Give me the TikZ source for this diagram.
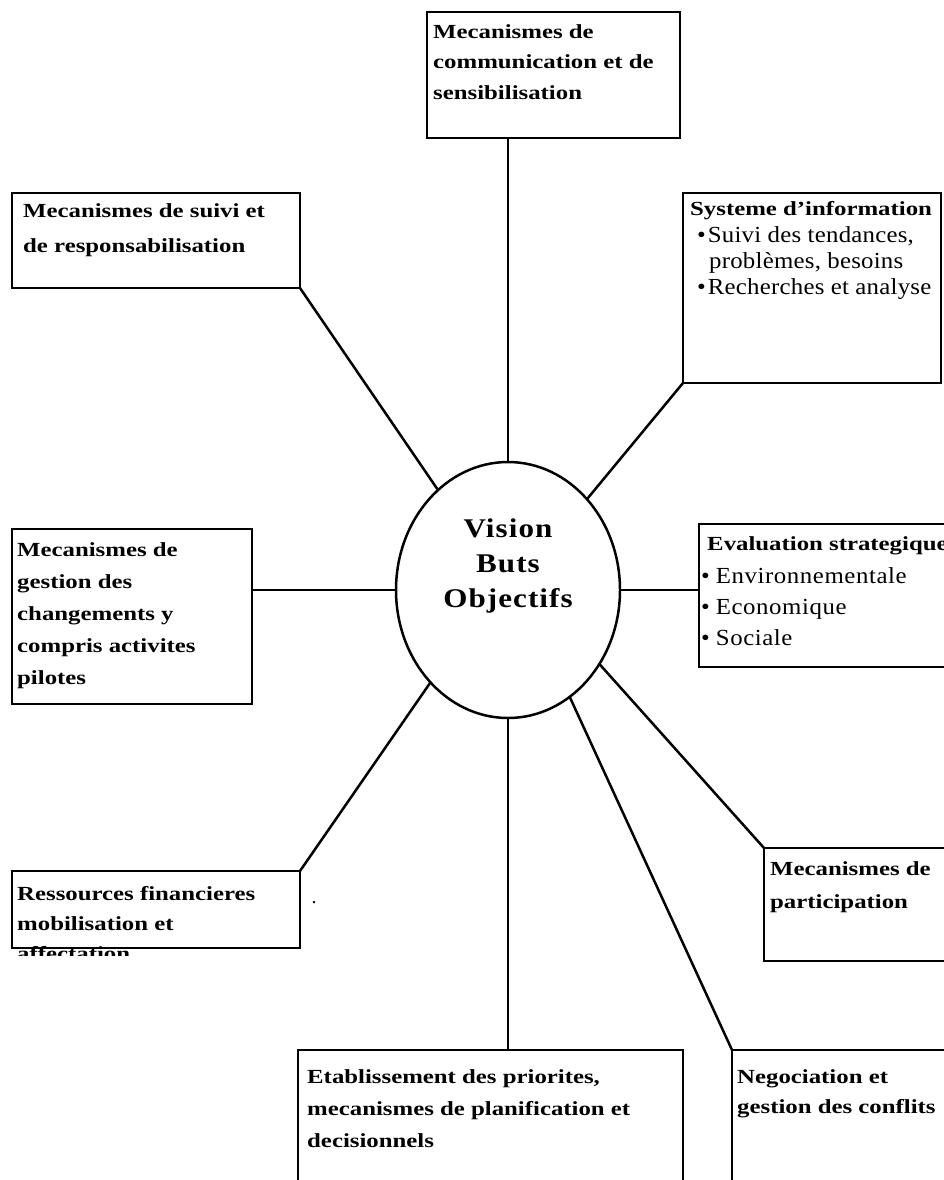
\documentclass[tikz,border=0pt]{standalone}
\usepackage{fontspec}
\setmainfont{Liberation Serif}
\newfontfamily\widefont[FakeStretch=1.24]{Liberation Serif}
\newfontfamily\listfont[FakeStretch=1.08,LetterSpace=2.5]{Liberation Serif}
\newfontfamily\sysfont[FakeStretch=1.08,LetterSpace=1]{Liberation Serif}
\newfontfamily\visfont[FakeStretch=1.15,LetterSpace=4]{Liberation Serif}
\usetikzlibrary{shapes.geometric, positioning, calc}
\tikzset{
    box/.style={draw, rectangle, line width=2.5pt, anchor=north west, inner sep=0pt, outer sep=0pt},
    % anchored at the baseline of the last line
    boxtxt/.style={anchor=base west, inner sep=0pt, align=left, font=\widefont\bfseries\fontsize{20}{#1}\selectfont},
    boxtxt/.default={32},
    listtxt/.style={anchor=base west, inner sep=0pt, align=left, font=\listfont\fontsize{23}{#1}\selectfont},
    listtxt/.default={26},
    link/.style={line width=2.5pt}
}

\begin{document}
\begin{tikzpicture}[x=1pt, y=-1pt]
    \useasboundingbox (0,0) rectangle (944,1180);
    % centre
    \node[draw, ellipse, line width=2.5pt, inner sep=0pt, outer sep=0pt, minimum width=224, minimum height=256] (ell) at (508,590) {};
    \node[anchor=base, align=center, inner sep=0pt, font=\visfont\bfseries\fontsize{27}{35}\selectfont] (vis) at (508,607) {Vision\\Buts\\Objectifs};
    % boxes
    \node[box, minimum width=253, minimum height=126] (comm) at (427,12) {};
    \node[box, minimum width=288, minimum height=95] (suivi) at (12,193) {};
    \node[box, minimum width=258, minimum height=190] (sys) at (683,193) {};
    \node[box, minimum width=240, minimum height=175] (gest) at (12,529) {};
    \node[box, minimum width=250, minimum height=143] (eval) at (699,524) {};
    \node[box, minimum width=288, minimum height=77] (res) at (12,871) {};
    \node[box, minimum width=185, minimum height=113] (part) at (764,848) {};
    \node[box, minimum width=385, minimum height=150] (etab) at (298,1050) {};
    \node[box, minimum width=220, minimum height=150] (nego) at (732,1050) {};
    % texts
    \node[boxtxt=31] (commtxt) at (433,100) {Mecanismes de\\communication et de\\sensibilisation};
    \node[boxtxt=35] (suivitxt) at (23,252) {Mecanismes de suivi et\\de responsabilisation};
    \node[boxtxt] (syshead) at (690,215) {Systeme d’information};
    \node[listtxt, font=\sysfont\fontsize{23}{26}\selectfont] (syslist) at (697,294) {\textbullet\hspace{2pt}Suivi des tendances,\\\hspace*{12pt}problèmes, besoins\\\textbullet\hspace{2pt}Recherches et analyse};
    \node[boxtxt] (gesttxt) at (17,684) {Mecanismes de\\gestion des\\changements y\\compris activites\\pilotes};
    \node[boxtxt] (evalhead) at (707,550) {Evaluation strategique};
    \node[listtxt=31] (evallist) at (701,645) {\textbullet\hspace{6pt}Environnementale\\\textbullet\hspace{6pt}Economique\\\textbullet\hspace{6pt}Sociale};
    \begin{scope}
        \clip (0,0) rectangle (944,955);
        \node[boxtxt=30] (restxt) at (17,960) {Ressources financieres\\mobilisation et\\affectation};
    \end{scope}
    \node[anchor=base, inner sep=0pt, font=\fontsize{20}{24}\selectfont] (dot) at (314,903) {.};
    \node[boxtxt=33] (parttxt) at (770,908) {Mecanismes de\\participation};
    \node[boxtxt] (etabtxt) at (307,1147) {Etablissement des priorites,\\mecanismes de planification et\\decisionnels};
    \node[boxtxt=30] (negotxt) at (737,1113) {Negociation et\\gestion des conflits};
    % links
    \draw[link] (ell.north) -- (ell.north |- comm.south);
    \draw[link] (ell.125) -- (suivi.south east);
    \draw[link] (ell.49) -- (sys.south west);
    \draw[link] (ell.west) -- (ell.west -| gest.east);
    \draw[link] (ell.east) -- (ell.east -| eval.west);
    \draw[link] (ell.230) -- (res.north east);
    \draw[link] (ell.south) -- (ell.south |- etab.north);
    \draw[link] (ell.-60) -- (nego.north west);
    \draw[link] (ell.-39) -- (part.north west);
\end{tikzpicture}
\end{document}
